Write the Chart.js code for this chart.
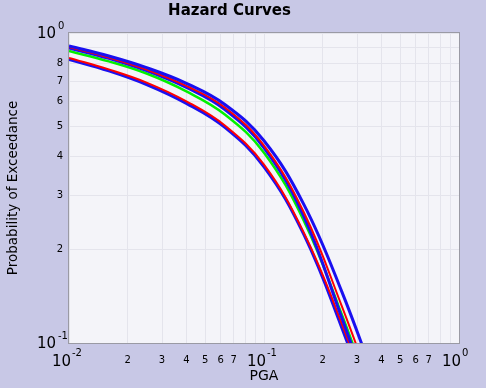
<!DOCTYPE html>
<html>
<head>
<meta charset="utf-8">
<script src="https://cdn.jsdelivr.net/npm/chart.js@4/dist/chart.umd.min.js"></script>
<style>
  html, body { margin: 0; padding: 0; background: #c8c8e6; }
  #wrap { width: 486px; height: 388px; }
</style>
</head>
<body>
<div id="wrap"><canvas id="chart"></canvas></div>
<script>
// PGA values (g) shared by all curves, 5 per decade
const pga = [0.01, 0.016, 0.025, 0.04, 0.063, 0.1, 0.16, 0.25, 0.4];

// probability of exceedance
const curveA = [0.908, 0.843, 0.773, 0.688, 0.588, 0.449, 0.280, 0.147, 0.0665];
const curveB = [0.901, 0.834, 0.762, 0.675, 0.575, 0.433, 0.264, 0.132, 0.0591];
const curveC = [0.895, 0.828, 0.756, 0.667, 0.566, 0.426, 0.256, 0.121, 0.0533];
const curveD = [0.875, 0.810, 0.740, 0.648, 0.546, 0.411, 0.248, 0.124, 0.0549];
const curveE = [0.831, 0.763, 0.692, 0.602, 0.503, 0.376, 0.227, 0.116, 0.0510];
const curveF = [0.822, 0.755, 0.682, 0.593, 0.496, 0.370, 0.224, 0.1125, 0.0495];

// tick positions (log decades with 2..9 minors)
const xTickValues = [0.01, 0.02, 0.03, 0.04, 0.05, 0.06, 0.07, 0.08, 0.09,
                     0.1, 0.2, 0.3, 0.4, 0.5, 0.6, 0.7, 0.8, 0.9, 1];
const yTickValues = [0.1, 0.2, 0.3, 0.4, 0.5, 0.6, 0.7, 0.8, 0.9, 1];
// major labels: value -> exponent of 10
const xMajor = [[0.01, '-2'], [0.1, '-1'], [1, '0']];
const yMajor = [[0.1, '-1'], [1, '0']];
// highest minor digit that gets a label
const xMinorMax = 7;
const yMinorMax = 8;

const FONT = "'DejaVu Sans', sans-serif";

function pts(ys) {
    return pga.map((x, i) => ({ x, y: ys[i] }));
}

function line(ys, color, width) {
    return {
        data: pts(ys),
        borderColor: color,
        borderWidth: width,
        pointRadius: 0,
        fill: false,
        tension: 0.4
    };
}

// mantissa of a log tick (1..9)
function mant(v) {
    const m = v / Math.pow(10, Math.floor(Math.log10(v) + 1e-9));
    return Math.round(m);
}

function minorLabel(maxDigit) {
    return v => {
        const m = mant(v);
        return m >= 2 && m <= maxDigit ? String(m) : '';
    };
}

// background, plot frame and the 10^n labels
const frame = {
    id: 'frame',
    beforeDraw(chart) {
        const { ctx, chartArea: a } = chart;
        ctx.save();
        ctx.fillStyle = '#c8c8e6';
        ctx.fillRect(0, 0, chart.width, chart.height);
        ctx.fillStyle = '#f4f4f9';
        ctx.fillRect(a.left, a.top, a.right - a.left, a.bottom - a.top);
        ctx.restore();
    },
    afterDraw(chart) {
        const { ctx, chartArea: a } = chart;
        const xs = chart.scales.x, ys = chart.scales.y;
        ctx.save();
        ctx.strokeStyle = '#9a9aa4';
        ctx.lineWidth = 1;
        ctx.strokeRect(a.left - 0.5, a.top - 0.5, a.right - a.left + 1, a.bottom - a.top + 1);

        ctx.fillStyle = '#000';
        ctx.textBaseline = 'middle';
        xMajor.forEach(([v, e]) => {
            const px = xs.getPixelForValue(v);
            ctx.font = '15px ' + FONT;
            ctx.textAlign = 'right';
            ctx.fillText('10', px + 2, a.bottom + 19);
            ctx.font = '10px ' + FONT;
            ctx.textAlign = 'left';
            ctx.fillText(e, px + 3, a.bottom + 10);
        });
        yMajor.forEach(([v, e]) => {
            const py = ys.getPixelForValue(v);
            ctx.font = '15px ' + FONT;
            ctx.textAlign = 'right';
            ctx.fillText('10', 56, py + 1);
            ctx.font = '10px ' + FONT;
            ctx.textAlign = 'left';
            ctx.fillText(e, 58, py - 7);
        });
        ctx.restore();
    }
};

new Chart(document.getElementById('chart'), {
    type: 'line',
    data: {
        datasets: [
            line(curveA, '#1a10f0', 3),
            line(curveB, '#ff0000', 2),
            line(curveC, '#1a10f0', 3),
            line(curveD, '#00f000', 2.5),
            line(curveE, '#ff0000', 2),
            line(curveF, '#1a10f0', 3)
        ]
    },
    options: {
        responsive: true,
        maintainAspectRatio: false,
        animation: false,
        layout: { padding: { left: 0, right: 27, top: 0, bottom: 0 } },
        plugins: {
            legend: { display: false },
            tooltip: { enabled: false },
            title: {
                display: true,
                text: 'Hazard Curves',
                color: '#000',
                font: { family: FONT, size: 15, weight: 'bold' },
                padding: { top: 2, bottom: 13 }
            }
        },
        scales: {
            x: {
                type: 'logarithmic',
                min: 0.01,
                max: 1,
                afterBuildTicks: s => { s.ticks = xTickValues.map(v => ({ value: v })); },
                afterFit: s => { s.height = 45; },
                border: { display: false },
                grid: { color: '#e4e4ec', drawTicks: false },
                ticks: {
                    autoSkip: false,
                    maxRotation: 0,
                    padding: 11,
                    color: '#000',
                    font: { family: FONT, size: 10 },
                    callback: minorLabel(xMinorMax)
                },
                title: {
                    display: true,
                    text: 'PGA',
                    color: '#000',
                    font: { family: FONT, size: 14 },
                    padding: { top: 0, bottom: 3 }
                }
            },
            y: {
                type: 'logarithmic',
                min: 0.1,
                max: 1,
                afterBuildTicks: s => { s.ticks = yTickValues.map(v => ({ value: v })); },
                afterFit: s => { s.width = 69; },
                border: { display: false },
                grid: { color: '#e4e4ec', drawTicks: false },
                ticks: {
                    autoSkip: false,
                    padding: 6,
                    color: '#000',
                    font: { family: FONT, size: 10 },
                    callback: minorLabel(yMinorMax)
                },
                title: {
                    display: true,
                    text: 'Probability of Exceedance',
                    color: '#000',
                    font: { family: FONT, size: 13.5 },
                    padding: { top: 5, bottom: 0 }
                }
            }
        }
    },
    plugins: [frame]
});
</script>
</body>
</html>
